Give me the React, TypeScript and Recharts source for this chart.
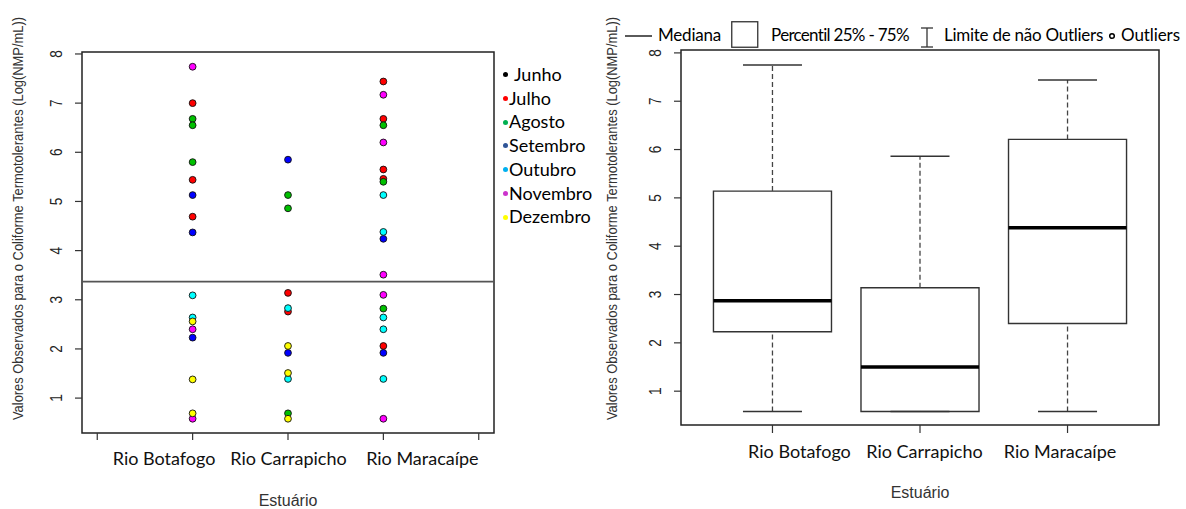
import React from 'react';
import {
  ScatterChart,
  ComposedChart,
  Scatter,
  XAxis,
  YAxis,
  ReferenceLine,
  ReferenceArea,
  Legend,
} from 'recharts';

// ---------- data ----------
const estuaries = ['Rio Botafogo', 'Rio Carrapicho', 'Rio Maracaípe'];
const estuaryPos = [1, 2, 3];
const months = ['Junho', 'Julho', 'Agosto', 'Setembro', 'Outubro', 'Novembro', 'Dezembro'];
const pointColors = ['#000000', '#FF0000', '#00C000', '#0000FF', '#00FFFF', '#FF00FF', '#FFFF00'];
const legendColors = ['#000000', '#FF0000', '#00B050', '#2F5597', '#00B0F0', '#CC33CC', '#FFFF00'];

// values per estuary [Botafogo, Carrapicho, Maracaípe]
const junho: number[][] = [[], [], []];
const julho = [[7.0, 5.44, 4.69], [3.14, 2.76], [7.44, 6.68, 5.65, 5.46, 2.06]];
const agosto = [[6.68, 6.55, 5.8], [5.13, 4.86, 0.69], [6.55, 5.4, 2.82]];
const setembro = [[5.13, 4.37, 2.23], [5.85, 1.92], [4.24, 1.92]];
const outubro = [[3.09, 2.64], [2.83, 1.39], [5.13, 4.38, 2.64, 2.4, 1.39]];
const novembro = [[7.74, 2.4, 0.58], [], [7.17, 6.2, 3.51, 3.1, 0.58]];
const dezembro = [[2.56, 1.38, 0.69], [2.06, 1.51, 0.58], []];
const monthValues = [junho, julho, agosto, setembro, outubro, novembro, dezembro];

const threshold = 3.37;

// box plot stats per estuary
const boxMin = [0.58, 0.58, 0.58];
const boxQ1 = [2.23, 0.58, 2.4];
const boxMedian = [2.87, 1.5, 4.38];
const boxQ3 = [5.14, 3.14, 6.21];
const boxMax = [7.75, 5.86, 7.44];

const yTicks = [1, 2, 3, 4, 5, 6, 7, 8];
const xTicksLeft = [0, 1, 2, 3, 4];
const xDomainLeft = [-0.16, 4.16];
const yDomainLeft = [0.29, 8.04];
const xDomainRight = [0.38, 3.62];
const yDomainRight = [0.3, 8.06];

const boxLegendLabels = ['Mediana', 'Percentil 25% - 75%', 'Limite de não Outliers', 'Outliers'];
const yLabel = 'Valores Observados para o Coliforme Termotolerantes (Log(NMP/mL))';
const xLabel = 'Estuário';

// ---------- styles (label nudges, in px, as placed in the original figure) ----------
const LEFT_LABEL_NUDGE = [-28.5, 0.5, 39];
const RIGHT_LABEL_NUDGE = [27, 4.5, -7.5];
const ARIAL = '"Liberation Sans", Arial, sans-serif';
const CAL = 'Lato, "Open Sans", sans-serif';
const INK = '#222';

const scatterSeries = months.map((m, k) => ({
  name: m,
  color: pointColors[k],
  data: estuaryPos.flatMap((p, i) => monthValues[k][i].map((v) => ({ x: p, y: v }))),
}));

const boxRows = estuaryPos.map((p, i) => ({
  x: p,
  min: boxMin[i],
  q1: boxQ1[i],
  median: boxMedian[i],
  q3: boxQ3[i],
  max: boxMax[i],
}));

const YTick = (props: any) => {
  const { x, y, payload } = props;
  return (
    <text
      transform={`translate(${x - 16},${y}) rotate(-90) scale(0.85,1)`}
      textAnchor="middle"
      dominantBaseline="central"
      fontSize={16}
      fontFamily={ARIAL}
      fill={INK}
    >
      {payload.value}
    </text>
  );
};

const makeXTick = (nudge: number[]) => (props: any) => {
  const { x, y, payload } = props;
  const i = estuaryPos.indexOf(payload.value);
  if (i < 0) return <g />;
  return (
    <text x={x + nudge[i]} y={y + 16} textAnchor="middle" dominantBaseline="central" fontSize={18} fontFamily={CAL} fill="#111">
      {estuaries[i]}
    </text>
  );
};

const XLabel = (props: any) => {
  const vb = props.viewBox || {};
  return (
    <text x={vb.x + vb.width / 2} y={vb.y + 67} textAnchor="middle" dominantBaseline="central" fontSize={16} fontFamily={ARIAL} fill="#333">
      {xLabel}
    </text>
  );
};

const makeYLabel = (dx: number, dy: number) => (props: any) => {
  const vb = props.viewBox || {};
  const right = vb.x + vb.width;
  const cx = right + dx;
  const cy = vb.y + vb.height / 2 + dy;
  return (
    <text
      transform={`translate(${cx},${cy}) rotate(-90) scale(0.89,1)`}
      textAnchor="middle"
      dominantBaseline="central"
      fontSize={14.5}
      fontFamily={ARIAL}
      fill="#333"
    >
      {yLabel}
    </text>
  );
};

const MonthLegend = () => (
  <div style={{ fontFamily: CAL, fontSize: 18, color: '#000', lineHeight: '23.7px' }}>
    {months.map((m, k) => (
      <div key={m} style={{ display: 'flex', alignItems: 'center', whiteSpace: 'nowrap' }}>
        <span
          style={{
            display: 'inline-block',
            width: 5,
            height: 5,
            borderRadius: '50%',
            background: legendColors[k],
            marginRight: k === 0 ? 6 : 1,
          }}
        />
        <span>{m}</span>
      </div>
    ))}
  </div>
);

const BoxLegend = () => (
  <div style={{ display: 'flex', alignItems: 'center', fontFamily: CAL, fontSize: 17, color: '#000', whiteSpace: 'nowrap' }}>
    <svg width={28} height={26} style={{ marginRight: 5 }}>
      <line x1={0} y1={14} x2={27} y2={14} stroke="#000" strokeWidth={1.3} />
    </svg>
    <span style={{ marginRight: 10, letterSpacing: -0.2 }}>{boxLegendLabels[0]}</span>
    <svg width={28} height={27} style={{ marginRight: 12 }}>
      <rect x={0.75} y={0.75} width={26} height={25.5} fill="none" stroke="#333" strokeWidth={1.3} />
    </svg>
    <span style={{ marginRight: 10, letterSpacing: -0.7 }}>{boxLegendLabels[1]}</span>
    <svg width={16} height={26} style={{ marginRight: 9 }}>
      <line x1={2} y1={6} x2={14} y2={6} stroke="#333" strokeWidth={1.3} />
      <line x1={8} y1={6} x2={8} y2={25} stroke="#333" strokeWidth={1.3} />
      <line x1={2} y1={25} x2={14} y2={25} stroke="#333" strokeWidth={1.3} />
    </svg>
    <span style={{ marginRight: 5, letterSpacing: -0.25 }}>{boxLegendLabels[2]}</span>
    <svg width={8} height={26} style={{ marginRight: 5 }}>
      <circle cx={4} cy={14} r={2.3} fill="none" stroke="#000" strokeWidth={1.5} />
    </svg>
    <span style={{ letterSpacing: -0.1 }}>{boxLegendLabels[3]}</span>
  </div>
);

const Dot = (color: string) => (props: any) => (
  <circle cx={props.cx} cy={props.cy} r={3.4} fill={color} stroke="#111" strokeWidth={0.9} />
);

const AXIS_W = 40;
const AXIS_H = 30;

export default function App() {
  return (
    <div style={{ position: 'absolute', left: 0, top: 0, width: 1186, height: 509, background: '#fff', overflow: 'hidden' }}>
      {/* Left: scatter by month */}
      <div style={{ position: 'absolute', left: 0, top: 0 }}>
        <ScatterChart width={600} height={509} margin={{ top: 52, right: 106, bottom: 76 - AXIS_H, left: 82 - AXIS_W }}>
          <XAxis
            type="number"
            dataKey="x"
            domain={xDomainLeft}
            ticks={xTicksLeft}
            allowDataOverflow
            height={AXIS_H}
            axisLine={false}
            tickLine={{ stroke: '#333', strokeWidth: 1.2 }}
            tickSize={7}
            tick={makeXTick(LEFT_LABEL_NUDGE)}
            interval={0}
            label={<XLabel />}
          />
          <YAxis
            type="number"
            dataKey="y"
            domain={yDomainLeft}
            ticks={yTicks}
            allowDataOverflow
            width={AXIS_W}
            axisLine={false}
            tickLine={{ stroke: '#333', strokeWidth: 1.2 }}
            tickSize={7}
            tick={<YTick />}
            interval={0}
            label={makeYLabel(-64, -24)}
          />
          <ReferenceArea
            x1={xDomainLeft[0]}
            x2={xDomainLeft[1]}
            y1={yDomainLeft[0]}
            y2={yDomainLeft[1]}
            fill="none"
            fillOpacity={0}
            stroke="#222"
            strokeWidth={1.5}
            ifOverflow="visible"
          />
          <ReferenceLine y={threshold} stroke="#555" strokeWidth={1.6} />
          {scatterSeries.map((s) => (
            <Scatter key={s.name} name={s.name} data={s.data} fill={s.color} shape={Dot(s.color)} isAnimationActive={false} />
          ))}
          <Legend
            layout="vertical"
            align="center"
            verticalAlign="middle"
            content={<MonthLegend />}
            wrapperStyle={{ left: 503, top: 63, width: 'auto' }}
          />
        </ScatterChart>
      </div>

      {/* Right: box plot */}
      <div style={{ position: 'absolute', left: 590, top: 0 }}>
        <ComposedChart width={596} height={509} data={boxRows} margin={{ top: 50, right: 27, bottom: 84 - AXIS_H, left: 91 - AXIS_W }}>
          <XAxis
            type="number"
            dataKey="x"
            domain={xDomainRight}
            ticks={estuaryPos}
            allowDataOverflow
            height={AXIS_H}
            axisLine={false}
            tickLine={{ stroke: '#333', strokeWidth: 1.2 }}
            tickSize={8}
            tick={makeXTick(RIGHT_LABEL_NUDGE)}
            interval={0}
            label={<XLabel />}
          />
          <YAxis
            type="number"
            domain={yDomainRight}
            ticks={yTicks}
            allowDataOverflow
            width={AXIS_W}
            axisLine={false}
            tickLine={{ stroke: '#333', strokeWidth: 1.2 }}
            tickSize={7}
            tick={<YTick />}
            interval={0}
            label={makeYLabel(-69, -19)}
          />
          <ReferenceArea
            x1={xDomainRight[0]}
            x2={xDomainRight[1]}
            y1={yDomainRight[0]}
            y2={yDomainRight[1]}
            fill="none"
            fillOpacity={0}
            stroke="#222"
            strokeWidth={1.5}
            ifOverflow="visible"
          />
          {boxRows.map((r) => (
            <ReferenceLine
              key={`wu${r.x}`}
              segment={[{ x: r.x, y: r.q3 }, { x: r.x, y: r.max }]}
              stroke="#444"
              strokeWidth={1.3}
              strokeDasharray="5 3"
            />
          ))}
          {boxRows.map((r) => (
            <ReferenceLine
              key={`wl${r.x}`}
              segment={[{ x: r.x, y: r.min }, { x: r.x, y: r.q1 }]}
              stroke="#444"
              strokeWidth={1.3}
              strokeDasharray="5 3"
            />
          ))}
          {boxRows.map((r) => (
            <ReferenceLine
              key={`cu${r.x}`}
              segment={[{ x: r.x - 0.2, y: r.max }, { x: r.x + 0.2, y: r.max }]}
              stroke="#333"
              strokeWidth={1.4}
            />
          ))}
          {boxRows.map((r) => (
            <ReferenceLine
              key={`cl${r.x}`}
              segment={[{ x: r.x - 0.2, y: r.min }, { x: r.x + 0.2, y: r.min }]}
              stroke="#333"
              strokeWidth={1.4}
            />
          ))}
          {boxRows.map((r) => (
            <ReferenceArea
              key={`b${r.x}`}
              x1={r.x - 0.4}
              x2={r.x + 0.4}
              y1={r.q1}
              y2={r.q3}
              fill="#fff"
              fillOpacity={1}
              stroke="#333"
              strokeWidth={1.4}
            />
          ))}
          {boxRows.map((r) => (
            <ReferenceLine
              key={`m${r.x}`}
              segment={[{ x: r.x - 0.4, y: r.median }, { x: r.x + 0.4, y: r.median }]}
              stroke="#000"
              strokeWidth={3.5}
            />
          ))}
          <Scatter dataKey="median" shape={() => <g />} isAnimationActive={false} legendType="none" />
          <Legend
            layout="vertical"
            align="center"
            verticalAlign="middle"
            content={<BoxLegend />}
            wrapperStyle={{ left: 35, top: 21, width: 'auto' }}
          />
        </ComposedChart>
      </div>
    </div>
  );
}
